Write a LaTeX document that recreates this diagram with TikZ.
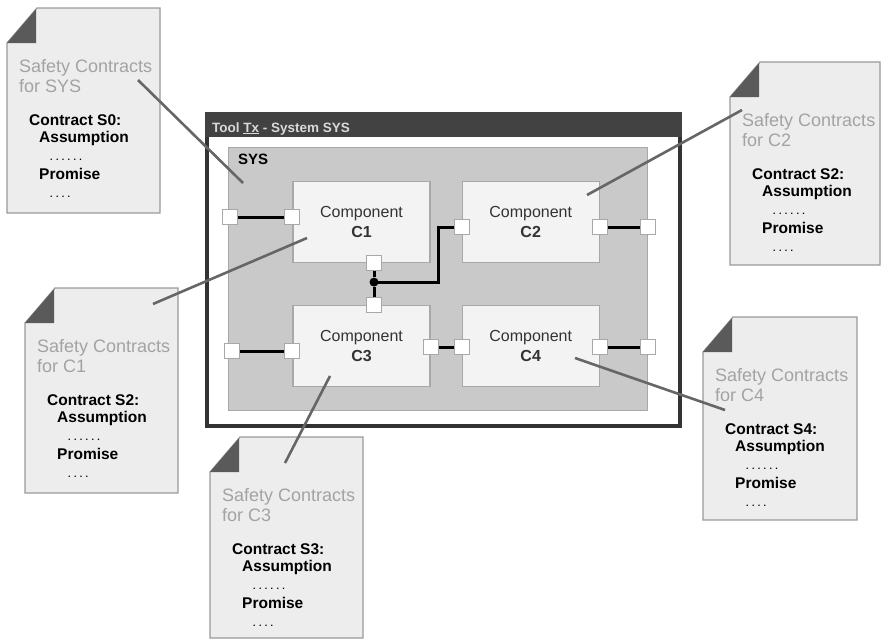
\documentclass[tikz,border=0pt]{standalone}
\usepackage{fontspec}
\setmainfont{Liberation Sans}
\usetikzlibrary{positioning}

\definecolor{pagefill}{HTML}{EDEDED}
\definecolor{pageedge}{HTML}{9A9A9A}
\definecolor{earfill}{HTML}{5A5A5A}
\definecolor{leadcol}{HTML}{666666}
\definecolor{winframe}{HTML}{333333}
\definecolor{titlebar}{HTML}{424242}
\definecolor{sysfill}{HTML}{C9C9C9}
\definecolor{compfill}{HTML}{F3F3F3}
\definecolor{compedge}{HTML}{A8A8A8}
\definecolor{softtext}{HTML}{A3A3A3}

\tikzset{
    docpage/.style={draw=pageedge, fill=pagefill, line width=1.2pt},
    dogear/.style={fill=earfill},
    doctitle/.style={anchor=base west, inner sep=0pt, text=softtext, font=\fontsize{18}{20}\selectfont},
    docbold/.style={anchor=base west, inner sep=0pt, font=\bfseries\fontsize{15.5}{18}\selectfont},
    docdots/.style={anchor=base west, inner sep=0pt, font=\bfseries\fontsize{9}{10}\selectfont},
    comp/.style={draw=compedge, fill=compfill, line width=1.2pt, minimum width=137pt, minimum height=81pt, align=center, text=black!80, font=\fontsize{16}{20}\selectfont},
    port/.style={draw=compedge, fill=white, line width=1pt, minimum size=15pt, inner sep=0pt},
    wire/.style={line width=3pt},
    leader/.style={draw=leadcol, line width=2.6pt},
}

% contract sheet: name, x, y, width, height, element, contract
\newcommand{\contractdoc}[7]{%
    \draw[docpage] (#2,#3+35) -- (#2+30,#3) -- (#2+#4,#3) -- (#2+#4,#3+#5) -- (#2,#3+#5) -- cycle;
    \fill[dogear] (#2,#3+35) -- (#2+29,#3+35) -- (#2+29,#3+1.2) -- cycle;
    \node[doctitle] (#1-head) at (#2+12,#3+64) {Safety Contracts};
    \node[doctitle] (#1-for) at (#2+12,#3+84) {for #6};
    \node[docbold] (#1-name) at (#2+22,#3+117) {Contract #7:};
    \node[docbold] (#1-asm) at (#2+32,#3+134) {Assumption};
    \node[docdots] (#1-asmdots) at (#2+43,#3+152) {. . . . . .};
    \node[docbold] (#1-prm) at (#2+32,#3+171) {Promise};
    \node[docdots] (#1-prmdots) at (#2+43,#3+189) {. . . .};
}

\begin{document}
\begin{tikzpicture}[x=1pt, y=-1pt]
    \useasboundingbox (0,0) rectangle (882,640);

    \contractdoc{dsys}{7}{8}{153}{205}{SYS}{S0}
    \contractdoc{dc1}{25}{288}{153}{205}{C1}{S2}
    \contractdoc{dc2}{730}{62}{150}{203}{C2}{S2}
    \contractdoc{dc3}{210}{437}{153}{201}{C3}{S3}
    \contractdoc{dc4}{703}{317}{154}{203}{C4}{S4}

    \node[draw=winframe, line width=4pt, fill=white, minimum width=473pt, minimum height=312pt, inner sep=0pt] (win) at (443.5,270) {};
    \node[fill=titlebar, minimum width=477pt, minimum height=25pt, inner sep=0pt] (bar) at (443.5,124.5) {};
    \node[anchor=base west, inner sep=0pt, text=black!15, font=\bfseries\fontsize{13.5}{15}\selectfont] (title) at (212,132) {Tool \underline{Tx} - System SYS};

    \node[draw=compedge, fill=sysfill, line width=1pt, minimum width=419pt, minimum height=263pt, inner sep=0pt] (sys) at (437.5,278.5) {};
    \node[anchor=base west, inner sep=0pt, font=\bfseries\fontsize{15}{18}\selectfont] (syslbl) at (238,164) {SYS};

    \node[comp] (c1) at (361.5,222) {Component\\\textbf{C1}};
    \node[comp, right=31pt of c1] (c2) {Component\\\textbf{C2}};
    \node[comp, below=42pt of c1] (c3) {Component\\\textbf{C3}};
    \node[comp, right=31pt of c3] (c4) {Component\\\textbf{C4}};

    \node[port] (c1w) at ([yshift=5pt]c1.west) {};
    \node[port] (c1s) at ([xshift=12.5pt]c1.south) {};
    \node[port] (c2w) at ([yshift=-5pt]c2.west) {};
    \node[port] (c2e) at ([yshift=-5pt]c2.east) {};
    \node[port] (c3n) at ([xshift=12.5pt]c3.north) {};
    \node[port] (c3w) at ([yshift=-5pt]c3.west) {};
    \node[port] (c3e) at ([yshift=-1pt]c3.east) {};
    \node[port] (c4w) at ([yshift=-1pt]c4.west) {};
    \node[port] (c4e) at ([yshift=-1pt]c4.east) {};
    \node[port] (s1) at ([xshift=2pt]sys.west |- c1w) {};
    \node[port] (s2) at (sys.east |- c2e) {};
    \node[port] (s3) at ([xshift=4pt]sys.west |- c3w) {};
    \node[port] (s4) at (sys.east |- c4e) {};
    \node[circle, fill=black, minimum size=9pt, inner sep=0pt] (jn) at ([yshift=-19pt]c1s.center) {};

    \draw[wire] (s1) -- (c1w);
    \draw[wire] (c1s) -- (jn) -- (c3n);
    \draw[wire] (jn.center) -- ++(64,0) |- (c2w);
    \draw[wire] (c2e) -- (s2);
    \draw[wire] (s3) -- (c3w);
    \draw[wire] (c3e) -- (c4w);
    \draw[wire] (c4e) -- (s4);

    \coordinate (dsys-lead) at (138,80);
    \coordinate (dc1-lead) at (153,304);
    \coordinate (dc2-lead) at (742,110);
    \coordinate (dc3-lead) at (285,463);
    \coordinate (dc4-lead) at (725,410);
    \coordinate (sys-pin) at (243,183);
    \coordinate (c1-pin) at (307,238);
    \coordinate (c2-pin) at (587,195);
    \coordinate (c3-pin) at (330,376);
    \coordinate (c4-pin) at (575,358);

    \draw[leader] (dsys-lead) -- (sys-pin);
    \draw[leader] (dc1-lead) -- (c1-pin);
    \draw[leader] (dc2-lead) -- (c2-pin);
    \draw[leader] (dc3-lead) -- (c3-pin);
    \draw[leader] (dc4-lead) -- (c4-pin);
\end{tikzpicture}
\end{document}
